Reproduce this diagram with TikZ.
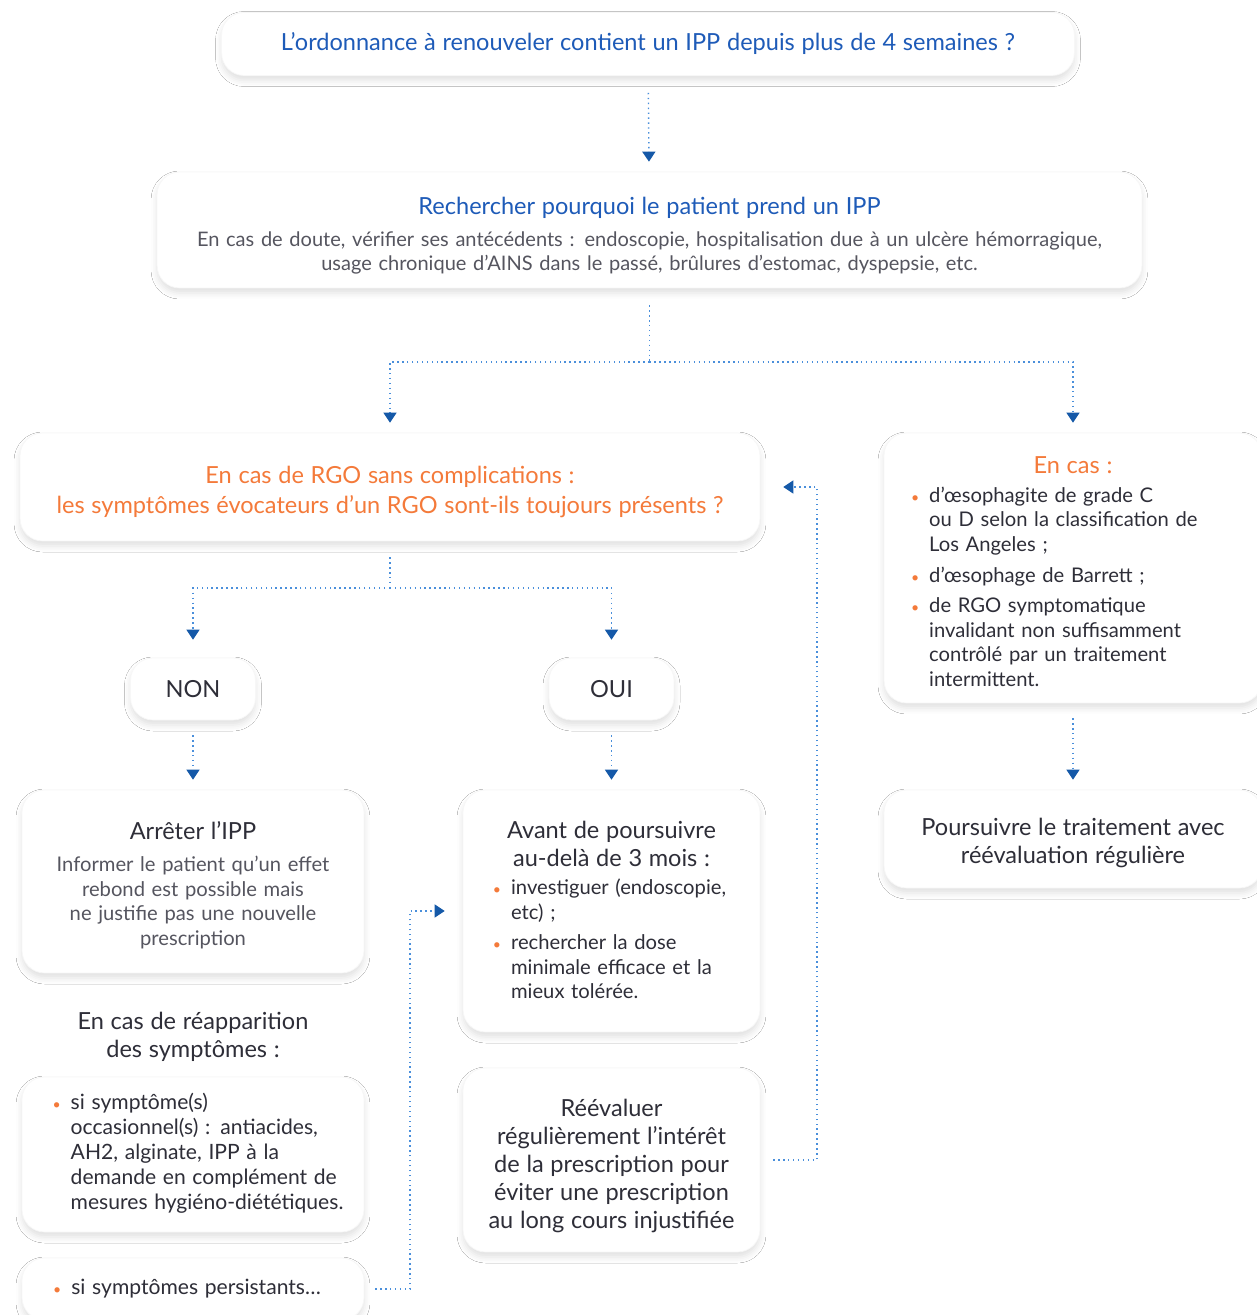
\documentclass[tikz,border=0pt]{standalone}
\usepackage{fontspec}
\setmainfont{Lato}
\usetikzlibrary{arrows.meta,shadows.blur}

\definecolor{bleuT}{HTML}{1E5BB8}
\definecolor{orangeT}{HTML}{F47A3A}
\definecolor{texte}{HTML}{2E2E38}
\definecolor{gristexte}{HTML}{55555F}
\definecolor{pointille}{HTML}{4A8FDB}
\definecolor{pointe}{HTML}{1559A8}

\setlength{\lineskiplimit}{-10pt}
\newcommand{\titre}{\fontsize{13.4}{15.9}\selectfont}
\newcommand{\corps}{\fontsize{11.4}{13.6}\selectfont}
\newcommand{\liste}{\fontsize{11.5}{14}\selectfont}
\newcommand{\puce}{\textcolor{orangeT}{\footnotesize\textbullet}}

\tikzset{
  boite/.style={rectangle, rounded corners=0.45cm, fill=white, draw=black!3, inner sep=0pt, align=center,
    blur shadow={shadow xshift=0pt, shadow yshift=-0.1cm, shadow blur radius=0.12cm, shadow opacity=12}},
  lien/.style={pointille, dotted, line width=0.8pt},
  fleche/.style={lien, -{Triangle[width=0.26cm, length=0.2cm, color=pointe]}, shorten >=0.2cm},
}

\begin{document}
\begin{tikzpicture}[x=0.02cm, y=-0.02cm, font=\corps, text=texte]
\path[use as bounding box, fill=white] (0,0) rectangle (1257,1315);

\node[boite, minimum width=17.06cm, minimum height=1.26cm, text width=16.6cm, text=bleuT] (ordo) at (648,44)
  {\titre L’ordonnance à renouveler contient un IPP depuis plus de 4 semaines ?\par};
\node[boite, minimum width=19.7cm, minimum height=2.32cm, text width=19.2cm] (recherche) at (649.5,230)
  {{\color{bleuT}\titre\rule{0pt}{0.58cm}Rechercher pourquoi le patient prend un IPP}\\[0.16cm]
   {\color{gristexte}En cas de doute, vérifier ses antécédents : endoscopie, hospitalisation due à un ulcère hémorragique,\\
   usage chronique d’AINS dans le passé, brûlures d’estomac, dyspepsie, etc.\par}};
\node[boite, minimum width=14.8cm, minimum height=2.16cm, text width=14.4cm, text=orangeT] (rgo) at (390,487)
  {\titre\rule{0pt}{0.55cm}En cas de RGO sans complications :\\[0.03cm]
   les symptômes évocateurs d’un RGO sont-ils toujours présents ?\par};
\node[boite, minimum width=7.56cm, minimum height=5.4cm, text width=7.2cm] (encas) at (1073,568)
  {{\color{orangeT}\titre\rule{0pt}{0.62cm}En cas :}\\[0.2cm]
   \liste\hspace*{-0.75cm}\begin{tabular}{@{}l@{\hspace{0.2cm}}l@{}}
   \puce & d’œsophagite de grade C\\
         & ou D selon la classification de\\
         & Los Angeles ;\\[0.12cm]
   \puce & d’œsophage de Barrett ;\\[0.12cm]
   \puce & de RGO symptomatique\\
         & invalidant non suffisamment\\
         & contrôlé par un traitement\\
         & intermittent.
   \end{tabular}\par};
\node[boite, minimum width=2.5cm, minimum height=1.24cm, text width=2.2cm] (non) at (193,689) {\titre NON\par};
\node[boite, minimum width=2.5cm, minimum height=1.24cm, text width=2.2cm] (oui) at (611.5,689) {\titre OUI\par};
\node[boite, minimum width=6.84cm, minimum height=3.66cm, text width=6.4cm] (arret) at (193,881.5)
  {\titre\rule{0pt}{0.5cm}Arrêter l’IPP\\[0.16cm]
   {\color{gristexte}\liste Informer le patient qu’un effet\\ rebond est possible mais\\
   ne justifie pas une nouvelle\\ prescription\par}};
\node[boite, minimum width=5.94cm, minimum height=4.84cm, text width=5.6cm] (avant) at (611.5,911)
  {\titre\rule{0pt}{0.45cm}Avant de poursuivre\\ au-delà de 3 mois :\\[0.18cm]
   \liste\hspace*{-0.08cm}\begin{tabular}{@{}l@{\hspace{0.2cm}}l@{}}
   \puce & investiguer (endoscopie,\\
         & etc) ;\\[0.12cm]
   \puce & rechercher la dose\\
         & minimale efficace et la\\
         & mieux tolérée.
   \end{tabular}\par};
\node[text width=6.4cm, align=center] (reapp) at (193,1037)
  {\titre En cas de réapparition\\ des symptômes :\par};
\node[boite, minimum width=6.84cm, minimum height=3.1cm, text width=6.6cm] (occas) at (193,1154.5)
  {\fontsize{12}{14.2}\selectfont\hspace*{0.2cm}\begin{tabular}{@{}l@{\hspace{0.2cm}}l@{}}
   \puce & si symptôme(s)\\
         & occasionnel(s) : antiacides,\\
         & AH2, alginate, IPP à la\\
         & demande en complément de\\
         & mesures hygiéno-diététiques.
   \end{tabular}\par};
\node[boite, minimum width=6.84cm, minimum height=1.24cm, text width=6.4cm] (persist) at (193,1289)
  {\fontsize{12}{14.2}\selectfont\begin{tabular}{@{}l@{\hspace{0.2cm}}l@{}}
   \puce & si symptômes persistants…\hspace{0.24cm}
   \end{tabular}\par};
\node[boite, minimum width=5.94cm, minimum height=3.68cm, text width=5.8cm] (reeval) at (611.5,1160)
  {\titre\rule{0pt}{0.6cm}Réévaluer\\ régulièrement l’intérêt\\ de la prescription pour\\
   éviter une prescription\\ au long cours injustifiée\par};
\node[boite, minimum width=7.56cm, minimum height=1.96cm, text width=7.2cm] (poursuivre) at (1073,839)
  {\titre\rule{0pt}{0.5cm}Poursuivre le traitement avec\\ réévaluation régulière\par};

\coordinate (s1) at (649.5,362);
\coordinate (s2) at (390,588);
\coordinate (c1) at (410,1289);
\coordinate (c2) at (410,911);
\coordinate (c3) at (817,1160);
\coordinate (c4) at (817,487);

\draw[fleche, shorten <=0.34cm] (ordo) -- (recherche);
\draw[lien, shorten <=0.34cm] (recherche) -- (s1);
\draw[fleche] (s1) -| (rgo);
\draw[fleche] (s1) -| (encas);
\draw[lien, shorten <=0.32cm] (rgo) -- (s2);
\draw[fleche, shorten >=0.36cm] (s2) -| (non);
\draw[fleche, shorten >=0.36cm] (s2) -| (oui);
\draw[fleche, shorten <=0.3cm] (non) -- (arret);
\draw[fleche, shorten <=0.3cm] (oui) -- (avant);
\draw[fleche, shorten <=0.3cm] (encas) -- (poursuivre);
\draw[fleche, shorten <=0.22cm, shorten >=0.36cm] (persist) -- (c1) -- (c2) -- (avant);
\draw[fleche, shorten <=0.26cm, shorten >=0.46cm] (reeval) -- (c3) -- (c4) -- (rgo);
\end{tikzpicture}
\end{document}
